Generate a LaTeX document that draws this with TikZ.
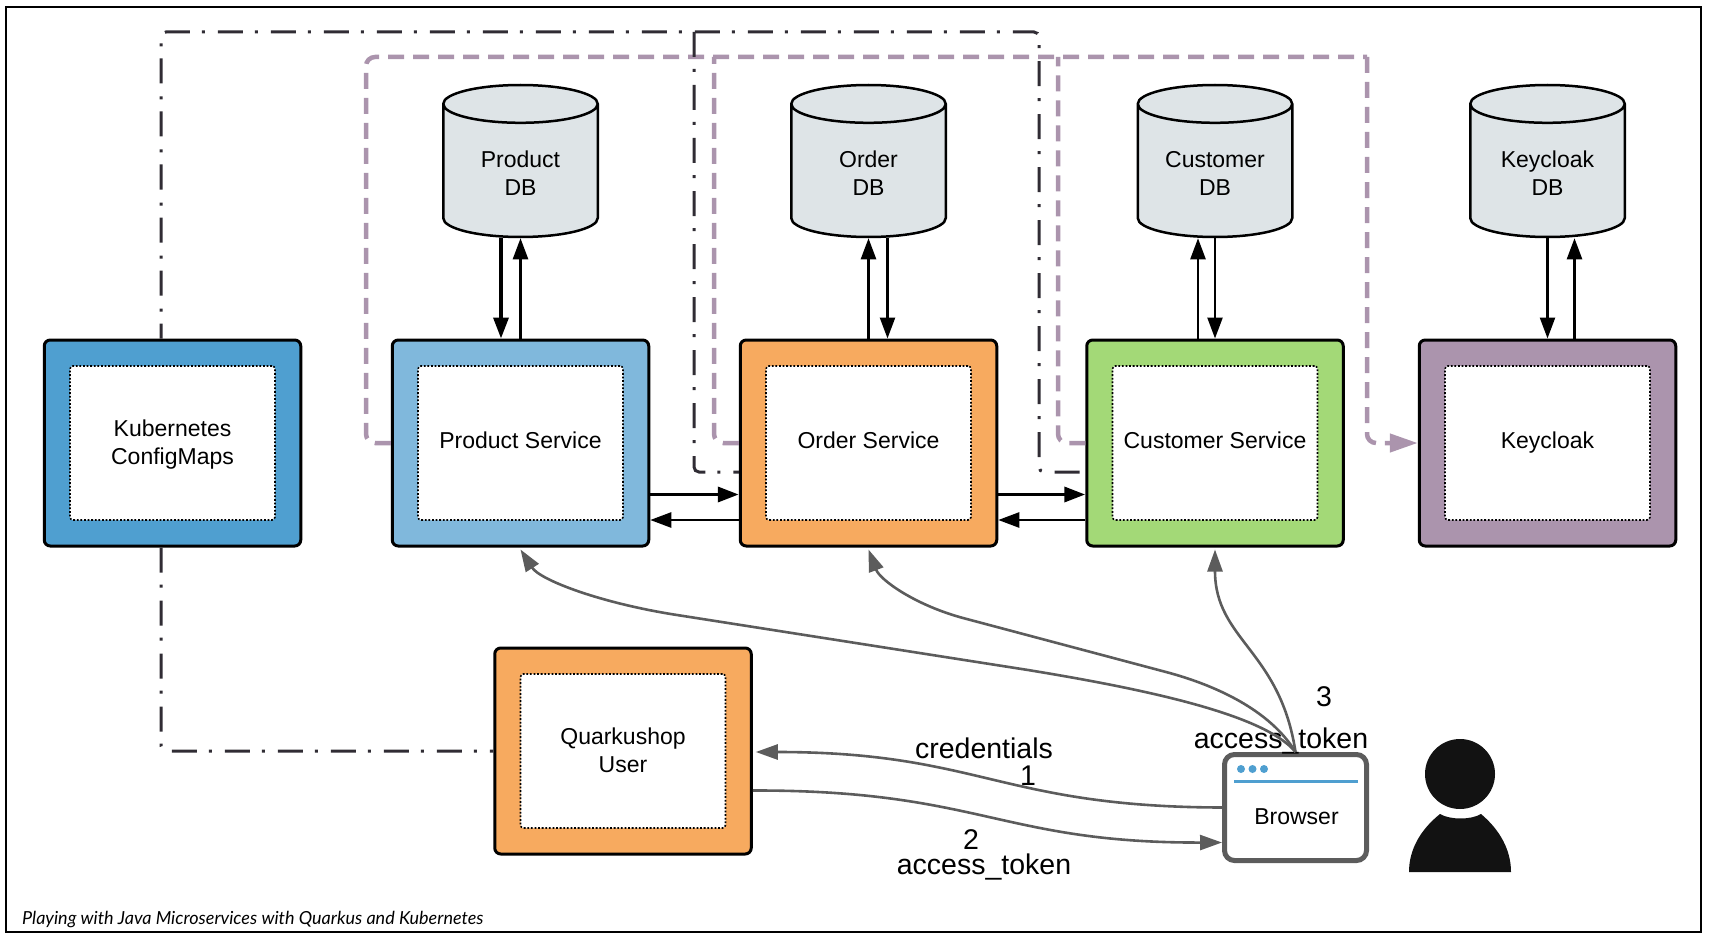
\documentclass[tikz,border=0pt]{standalone}
\usepackage{fontspec}
\setmainfont{Liberation Sans}
\newfontfamily\capfont{Lato}
\usetikzlibrary{arrows.meta,positioning,calc,shapes.geometric}
\definecolor{cfgblue}{RGB}{79,159,208}
\definecolor{ditherblue}{RGB}{128,184,220}
\definecolor{svcorange}{RGB}{247,170,95}
\definecolor{svcgreen}{RGB}{163,217,119}
\definecolor{svcpurple}{RGB}{171,148,173}
\definecolor{dbgrey}{RGB}{222,228,231}
\definecolor{flowgrey}{RGB}{92,92,92}
\definecolor{cfgdark}{RGB}{48,44,52}
\tikzset{
  svcbox/.style={draw=black,line width=3pt,rounded corners=6pt,minimum width=256.5pt,minimum height=206pt},
  svcinner/.style={draw=black,line width=1.6pt,dash pattern=on 1.8pt off 1.8pt,fill=white,rounded corners=3pt,
    minimum width=205pt,minimum height=154pt,align=center,font=\fontsize{23}{28}\selectfont},
  dbnode/.style={cylinder,shape border rotate=90,aspect=0.42,draw=black,line width=2.5pt,fill=dbgrey,
    anchor=shape center,minimum width=154.5pt,minimum height=152pt,inner sep=0pt},
  dblabel/.style={align=center,font=\fontsize{23}{28}\selectfont},
  dbflow/.style={-{Triangle[length=21pt,width=15pt]},line width=2.5pt,black},
  dbflowbold/.style={-{Triangle[length=21pt,width=15pt]},line width=3.5pt,black},
  purpledash/.style={svcpurple,line width=4.5pt,dash pattern=on 16pt off 9pt,rounded corners=9pt},
  cfgdash/.style={cfgdark,line width=3pt,dash pattern=on 25pt off 12pt on 3pt off 13pt,rounded corners=5pt},
  userflow/.style={-{Triangle[length=22pt,width=15pt]},line width=2.6pt,flowgrey},
  flowlabel/.style={font=\fontsize{28.5}{30}\selectfont}
}
\begin{document}
\begin{tikzpicture}[x=1pt,y=-1pt]
  \useasboundingbox (0,0) rectangle (1711,939);
  \draw[line width=2.5pt,black] (6,7) rectangle (1701,932);

  % service boxes
  \foreach \nm/\cx/\cy/\col/\lab in {config/172.5/443/cfgblue/{\rule{0pt}{24pt}Kubernetes\\ConfigMaps},
      product/520.5/443/ditherblue/{Product Service},
      order/868.5/443/svcorange/{Order Service},
      customer/1215/443/svcgreen/{Customer Service},
      keycloak/1547.5/443/svcpurple/{Keycloak},
      quarkuser/623/751/svcorange/{\rule{0pt}{24pt}Quarkushop\\User}} {
    \node[svcbox,fill=\col] (\nm) at (\cx,\cy) {};
    \node[svcinner] (\nm in) at (\nm) {\strut\lab\strut};}

  % databases
  \foreach \nm/\cx/\lab in {productdb/520.5/Product,orderdb/868.5/Order,customerdb/1215/Customer,keycloakdb/1547.5/Keycloak} {
    \node[dbnode] (\nm) at (\cx,161) {\phantom{\rule{90pt}{50pt}}};
    \node[dblabel] (\nm lab) at (\cx,176) {\strut\lab\\DB\strut};}

  % service to database
  \draw[dbflowbold] ([xshift=-19.5pt]productdb.south) -- ([xshift=-19.5pt]product.north);
  \draw[dbflow] (product.north) -- (productdb.south);
  \draw[dbflow] (order.north) -- (orderdb.south);
  \draw[dbflow] ([xshift=19pt]orderdb.south) -- ([xshift=19pt]order.north);
  \draw[dbflow] ([xshift=-17pt]customer.north) -- ([xshift=-17pt]customerdb.south);
  \draw[dbflow] (customerdb.south) -- (customer.north);
  \draw[dbflow] (keycloakdb.south) -- (keycloak.north);
  \draw[dbflow] ([xshift=27pt]keycloak.north) -- ([xshift=27pt]keycloakdb.south);

  % service to service
  \draw[dbflowbold] ([yshift=-51.5pt]product.east) -- ([yshift=-51.5pt]order.west);
  \draw[dbflow] ([yshift=-77pt]order.west) -- ([yshift=-77pt]product.east);
  \draw[dbflowbold] ([yshift=-51.5pt]order.east) -- ([yshift=-51.5pt]customer.west);
  \draw[dbflow] ([yshift=-77pt]customer.west) -- ([yshift=-77pt]order.east);

  % keycloak links
  \coordinate (purpletopl) at (366,57);
  \coordinate (purpletopr) at (1367,57);
  \coordinate (ordertop) at (714,57);
  \coordinate (customertop) at (1058,57);
  \draw[purpledash] (product.west) -| (purpletopl) -- (purpletopr);
  \draw[purpledash] (order.west) -| (ordertop);
  \draw[purpledash] (customer.west) -| (customertop);
  \draw[purpledash,-{Triangle[length=28pt,width=18pt]}] (purpletopr) |- (keycloak.west);

  % configmap links
  \coordinate (cfgtopr) at (1039,32);
  \coordinate (cfgtopm) at (694,32);
  \draw[cfgdash,dash phase=10pt] ([xshift=-11.5pt]config.north) |- (cfgtopr) |- ([yshift=-29pt]customer.west);
  \draw[cfgdash] (cfgtopm) |- ([yshift=-29pt]order.west);
  \draw[cfgdash] ([xshift=-11.5pt]config.south) |- (quarkuser.west);

  % browser
  \node[draw=flowgrey,line width=5pt,fill=white,rounded corners=10pt,minimum width=142pt,minimum height=106pt] (browser) at (1295.5,807.5) {};
  \draw[cfgblue,line width=3pt] (1234,781) -- (1358,781);
  \foreach \x in {1241,1252.5,1264} {
    \fill[cfgblue] (\x,769) circle (4);}
  \node[font=\fontsize{23}{28}\selectfont] (browserlab) at (1296.5,816.5) {Browser};

  % user
  \fill[black!93] (1460,774) circle (35);
  \fill[black!93] (1409,872) .. controls (1409,850) and (1420,830) .. (1440,814)
    .. controls (1450,820) and (1471,820) .. (1481,814)
    .. controls (1500,830) and (1511,850) .. (1511,872) -- cycle;

  % labels
  \node[flowlabel] (credlab) at (984,748) {credentials};
  \node[flowlabel] (onelab) at (1028,776) {1};
  \node[flowlabel] (twolab) at (971,840) {2};
  \node[flowlabel] (tokenlab) at (984,867) {access\_token};
  \node[flowlabel] (threelab) at (1324,697) {3};
  \node[flowlabel] (tokenlabb) at (1281,741) {access\_token};

  % browser flows
  \draw[userflow] (browser.north) .. controls (1265,715) and (1150,690) .. (1028,670)
    -- (677,615) .. controls (600,603) and (540,580) .. ([yshift=-2pt]product.south);
  \draw[userflow] (browser.north) .. controls (1270,710) and (1215,685) .. (1166,672)
    -- (963,618) .. controls (915,605) and (880,580) .. ([yshift=-2pt]order.south);
  \draw[userflow] (browser.north) .. controls (1280,650) and (1215,640) .. ([yshift=-2pt]customer.south);
  \draw[userflow] (browser.west) .. controls (1000,807) and (980,752) .. ([xshift=3pt,yshift=-1pt]quarkuser.east);
  \draw[userflow] ([yshift=-39.5pt]quarkuser.east) .. controls (980,790) and (1000,843) .. ([yshift=-35pt]browser.west);

  \node[anchor=west,inner sep=0pt,font=\capfont\itshape\fontsize{18}{20}\selectfont] (caption) at (22,920) {Playing with Java Microservices with Quarkus and Kubernetes};
\end{tikzpicture}
\end{document}
